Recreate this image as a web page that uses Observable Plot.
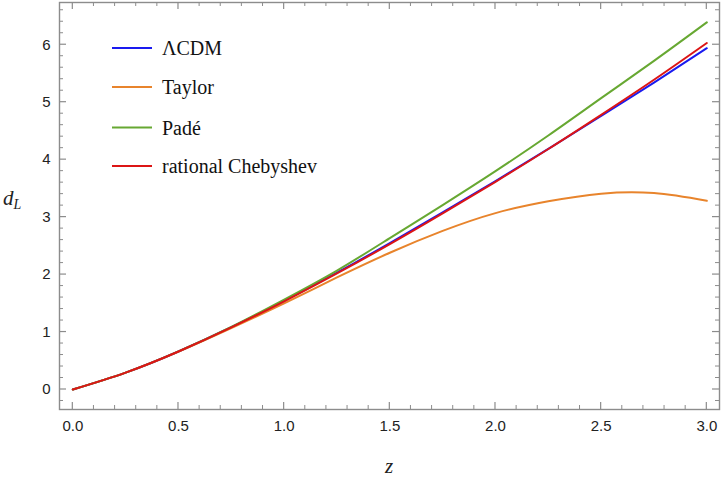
<!DOCTYPE html>
<html>
<head>
<meta charset="utf-8">
<script src="https://cdn.jsdelivr.net/npm/d3@7"></script>
<script src="https://cdn.jsdelivr.net/npm/@observablehq/plot@0.6"></script>
<style>
  html, body { margin: 0; padding: 0; background: #fff; }
  #chart { position: relative; width: 722px; height: 483px; }
</style>
</head>
<body>
<div id="chart"></div>
<script>
// ---- data ----
const zValues      = [0, 0.25, 0.5, 0.75, 1.0, 1.25, 1.5, 1.75, 2.0, 2.25, 2.5, 2.75, 3.0];
const lcdmValues   = [0, 0.294, 0.662, 1.083, 1.542, 2.032, 2.548, 3.081, 3.627, 4.189, 4.760, 5.342, 5.940];
const taylorValues = [0, 0.294, 0.660, 1.070, 1.500, 1.950, 2.380, 2.760, 3.070, 3.275, 3.408, 3.418, 3.285];
const padeValues   = [0, 0.294, 0.663, 1.090, 1.565, 2.070, 2.635, 3.210, 3.800, 4.420, 5.070, 5.720, 6.390];
const chebValues   = [0, 0.294, 0.661, 1.080, 1.535, 2.020, 2.530, 3.065, 3.615, 4.185, 4.780, 5.390, 6.030];

const seriesNames  = ["ΛCDM", "Taylor", "Padé", "rational Chebyshev"];
const seriesColors = ["#1a1aef", "#e8842c", "#67a832", "#dc1515"];
const seriesValues = [lcdmValues, taylorValues, padeValues, chebValues];

const xMajorTicks = [0, 0.5, 1.0, 1.5, 2.0, 2.5, 3.0];
const xMinorTicks = d3.range(0, 31).map(i => i / 10).filter(v => Math.round(v * 10) % 5 !== 0);
const yMajorTicks = [0, 1, 2, 3, 4, 5, 6];
const yMinorTicks = d3.range(-1, 34).map(i => i / 5).filter(v => Math.abs(v - Math.round(v)) > 1e-9);

// long table for the library
const rows = [];
seriesNames.forEach((name, s) => {
  zValues.forEach((z, i) => rows.push({series: name, z, dL: seriesValues[s][i]}));
});

const W = 722, H = 483;
const mL = 59, mR = 3, mT = 2, mB = 74;
const frameColor = "#8c8c8c";
const majorLen = 7, minorLen = 4;

const plot = Plot.plot({
  width: W,
  height: H,
  marginLeft: mL,
  marginRight: mR,
  marginTop: mT,
  marginBottom: mB,
  style: {fontFamily: "'Liberation Sans', Arial, sans-serif", fontSize: "14px", color: "#222", background: "#fff"},
  x: {domain: [-0.063, 3.06]},
  y: {domain: [-0.348, 6.735]},
  color: {domain: seriesNames, range: seriesColors},
  marks: [
    Plot.frame({stroke: frameColor, fill: "none", strokeWidth: 1.4}),
    // tick labels
    Plot.axisX(xMajorTicks, {tickSize: 0, tickPadding: 11, tickFormat: d3.format(".1f"), label: null, fontSize: 15}),
    Plot.axisY(yMajorTicks, {tickSize: 0, tickPadding: 9, tickFormat: d3.format("d"), label: null, fontSize: 15}),
    // curves
    Plot.line(rows, {x: "z", y: "dL", z: "series", stroke: "series", strokeWidth: 2, curve: "natural"})
  ]
});

document.getElementById("chart").appendChild(plot);

const svg = d3.select(plot);
const xs = plot.scale("x"), ys = plot.scale("y");
const frameL = mL, frameR = W - mR, frameT = mT, frameB = H - mB;

// inward ticks on all four sides, positioned through the plot's scales
const tg = svg.append("g").attr("stroke", frameColor);
function xTicks(vals, len, sw) {
  vals.forEach(v => {
    const px = xs.apply(v);
    tg.append("line").attr("x1", px).attr("x2", px).attr("y1", frameB).attr("y2", frameB - len).attr("stroke-width", sw);
    tg.append("line").attr("x1", px).attr("x2", px).attr("y1", frameT).attr("y2", frameT + len).attr("stroke-width", sw);
  });
}
function yTicks(vals, len, sw) {
  vals.forEach(v => {
    const py = ys.apply(v);
    tg.append("line").attr("y1", py).attr("y2", py).attr("x1", frameL).attr("x2", frameL + len).attr("stroke-width", sw);
    tg.append("line").attr("y1", py).attr("y2", py).attr("x1", frameR).attr("x2", frameR - len).attr("stroke-width", sw);
  });
}
xTicks(xMajorTicks, majorLen, 1.2);
xTicks(xMinorTicks, minorLen, 1);
yTicks(yMajorTicks, majorLen, 1.2);
yTicks(yMinorTicks, minorLen, 1);

// axis labels and legend
const serif = "'Liberation Serif', 'Times New Roman', serif";

svg.append("text")
  .attr("x", 389).attr("y", 473)
  .attr("text-anchor", "middle")
  .attr("font-family", serif).attr("font-style", "italic").attr("font-size", 21)
  .attr("fill", "#222")
  .text("z");

const dl = svg.append("text")
  .attr("x", 3).attr("y", 205)
  .attr("text-anchor", "start")
  .attr("font-family", serif).attr("font-style", "italic").attr("font-size", 21)
  .attr("fill", "#222");
dl.append("tspan").text("d");
dl.append("tspan").attr("font-size", 14).attr("dy", 4).text("L");

const legendY = [48, 87, 127.5, 166];
const leg = svg.append("g");
seriesNames.forEach((name, i) => {
  leg.append("line")
    .attr("x1", 112).attr("x2", 152)
    .attr("y1", legendY[i]).attr("y2", legendY[i])
    .attr("stroke", seriesColors[i]).attr("stroke-width", 2);
  leg.append("text")
    .attr("x", 162).attr("y", legendY[i] + 7)
    .attr("text-anchor", "start")
    .attr("font-family", serif).attr("font-size", 20)
    .attr("fill", "#111")
    .text(name);
});
</script>
</body>
</html>
